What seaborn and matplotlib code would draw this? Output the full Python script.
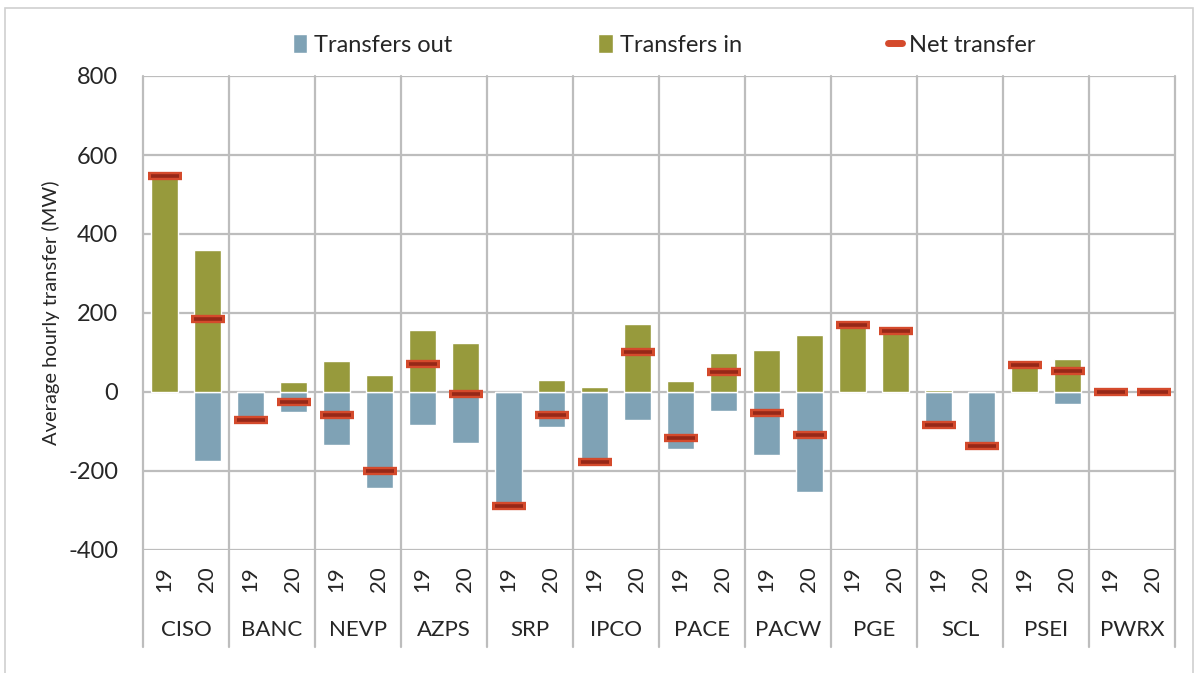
import numpy as np
import pandas as pd
import matplotlib
matplotlib.use("Agg")
import matplotlib.pyplot as plt
import seaborn as sns
from matplotlib.patches import Patch, Rectangle
from matplotlib.lines import Line2D
import matplotlib.transforms as mtrans

regions = ["CISO", "BANC", "NEVP", "AZPS", "SRP", "IPCO", "PACE", "PACW", "PGE", "SCL", "PSEI", "PWRX"]
years = ["19", "20"]
transfers_out = [0, -175, -71, -51, -134, -243, -84, -130, -289, -89, -188, -71,
                 -144, -48, -160, -253, 0, 0, -88, -137, 0, -30, 0, 0]
transfers_in = [548, 360, 0, 25, 78, 43, 157, 124, 0, 30, 12, 172,
                28, 98, 106, 145, 170, 155, 4, 0, 68, 83, 0, 0]
net_transfer = [548, 185, -71, -26, -57, -201, 72, -5, -289, -59, -176, 101,
                -116, 50, -54, -108, 170, 155, -84, -137, 68, 53, 0, 0]

sns.set_theme(style="white")
plt.rcParams["font.family"] = ["Lato", "DejaVu Sans"]

C_OUT = "#7FA2B5"
C_IN = "#979A3C"
C_NET_OUT = "#D44A2C"
C_NET_IN = "#962818"
GRID = "#BDBDBD"

n = len(regions) * len(years)
df = pd.DataFrame({
    "pos": np.arange(n),
    "region": np.repeat(regions, len(years)),
    "year": years * len(regions),
    "out": transfers_out,
    "in": transfers_in,
    "net": net_transfer,
})

W, H = 1198, 673
fig = plt.figure(figsize=(W / 100, H / 100), dpi=100)
L, R, T, B = 143, 1175, 76, 550
ax = fig.add_axes([L / W, 1 - B / H, (R - L) / W, (B - T) / H])

sns.barplot(data=df, x="pos", y="out", color=C_OUT, width=0.65, native_scale=True,
            saturation=1, ax=ax, zorder=2, errorbar=None)
sns.barplot(data=df, x="pos", y="in", color=C_IN, width=0.65, native_scale=True,
            saturation=1, ax=ax, zorder=2, errorbar=None)
sns.scatterplot(data=df, x="pos", y="net", marker="_", s=24.5 ** 2, linewidth=6,
                color=C_NET_OUT, edgecolor=C_NET_OUT, ax=ax, zorder=3)
sns.scatterplot(data=df, x="pos", y="net", marker="_", s=20 ** 2, linewidth=2.6,
                color=C_NET_IN, edgecolor=C_NET_IN, ax=ax, zorder=4)

ax.set_xlim(-0.5, n - 0.5)
ax.set_ylim(-400, 800)
ax.set_yticks(np.arange(-400, 801, 200))
ax.set_yticklabels([f"{v:d}" for v in np.arange(-400, 801, 200)], fontsize=17)
ax.yaxis.grid(True, color=GRID, lw=1.6, zorder=0)
ax.set_axisbelow(True)
for s in ax.spines.values():
    s.set_visible(False)

# group separators (inside plot and through the category label area)
trans = mtrans.blended_transform_factory(ax.transData, ax.transAxes)
bounds = np.arange(-0.5, n, len(years))
for b in bounds:
    ax.plot([b, b], [-0.205, 1.0], transform=trans, color=GRID, lw=1.6,
            clip_on=False, zorder=1)

ax.set_xticks(df["pos"])
ax.set_xticklabels(df["year"], rotation=90, fontsize=16, va="top")
ax.tick_params(axis="x", length=0, pad=12)
ax.tick_params(axis="y", length=0, pad=18)
ax.set_xlabel("")
ax.set_ylabel("Average hourly transfer (MW)", fontsize=14.5, labelpad=6)

for i, reg in enumerate(regions):
    ax.text(i * len(years) + (len(years) - 1) / 2, -0.169, reg, transform=trans,
            ha="center", va="center", fontsize=16)

handles = [Patch(facecolor=C_OUT, label="Transfers out"),
           Patch(facecolor=C_IN, label="Transfers in"),
           Line2D([0], [0], color=C_NET_OUT, lw=5, label="Net transfer")]
fig.legend(handles=handles, loc="center", bbox_to_anchor=(0.5545, 0.933), ncol=3,
           frameon=False, fontsize=17, handlelength=0.6, handleheight=0.8,
           handletextpad=0.3, columnspacing=6.2)

fig.patches.append(Rectangle((5 / W, -0.02), 1188 / W, 1 - 8 / H + 0.02,
                             transform=fig.transFigure, fill=False,
                             edgecolor="#D0D0D0", lw=1.2))

fig.savefig("out.png", dpi=100)
